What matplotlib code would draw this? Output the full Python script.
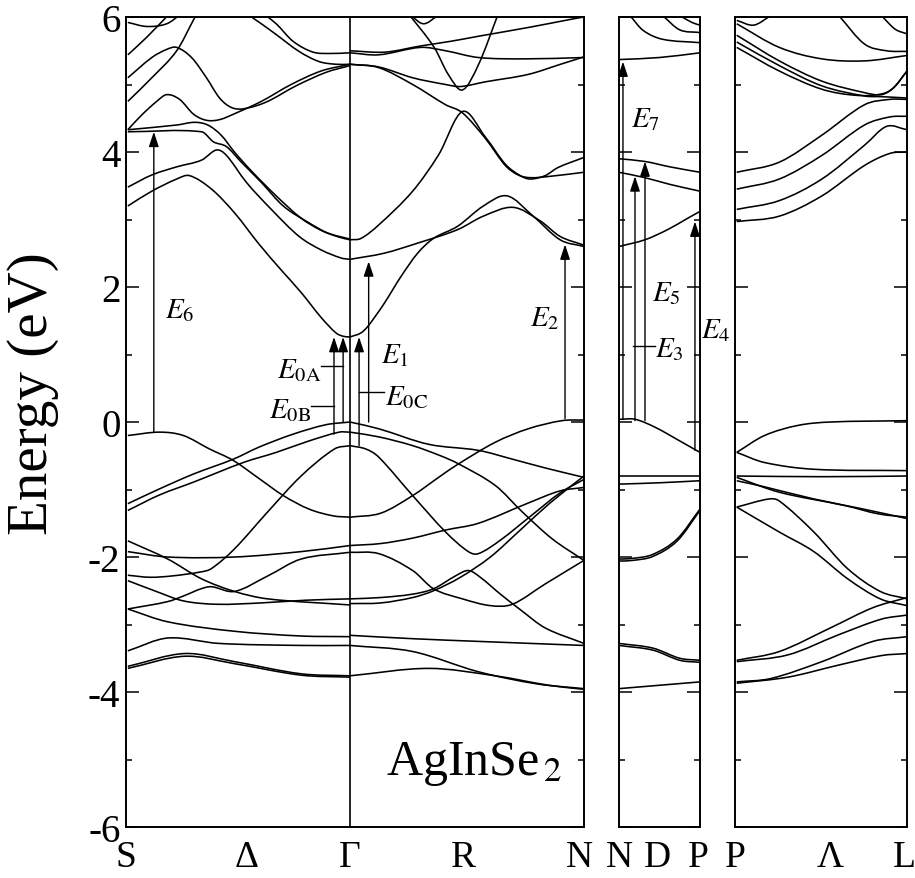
import matplotlib
matplotlib.use("Agg")
import matplotlib.pyplot as plt
from matplotlib.path import Path
from matplotlib.patches import PathPatch
import numpy as np

plt.rcParams['font.family'] = ['Liberation Serif', 'DejaVu Serif']
plt.rcParams['mathtext.fontset'] = 'stix'
plt.rcParams['axes.unicode_minus'] = False

# ---------------- data: bands as (t along segment, energy eV) ----------------
# S -> Gamma
SG_BANDS = [
    [(0, 3.2), (0.108, 3.42), (0.22, 3.6), (0.278, 3.65), (0.377, 3.45), (0.48, 3.1), (0.592, 2.63),
     (0.691, 2.25), (0.78, 1.92), (0.87, 1.55), (0.937, 1.32), (0.97, 1.27), (1, 1.26)],
    [(0, 3.48), (0.108, 3.66), (0.22, 3.78), (0.332, 3.88), (0.399, 4.03), (0.444, 3.95), (0.534, 3.55),
     (0.646, 3.15), (0.771, 2.75), (0.87, 2.55), (0.96, 2.43), (1, 2.41)],
    [(0, 4.33), (0.22, 4.4), (0.3, 4.44), (0.36, 4.4), (0.42, 4.25), (0.48, 4.0), (0.556, 3.72),
     (0.668, 3.35), (0.78, 3.02), (0.87, 2.84), (0.95, 2.74), (1, 2.7)],
    [(0, 4.3), (0.332, 4.3), (0.386, 4.15), (0.444, 4.08), (0.511, 3.85), (0.601, 3.55), (0.7, 3.2),
     (0.816, 2.95), (0.9, 2.8), (1, 2.71)],
    [(0, 4.33), (0.063, 4.55), (0.13, 4.75), (0.175, 4.85), (0.233, 4.78), (0.296, 4.56), (0.354, 4.47),
     (0.413, 4.48), (0.489, 4.58), (0.601, 4.75), (0.735, 5.0), (0.87, 5.2), (1, 5.3)],
    [(0, 5.1), (0.108, 5.4), (0.175, 5.52), (0.22, 5.55), (0.287, 5.4), (0.354, 5.1), (0.413, 4.8),
     (0.466, 4.66), (0.52, 4.64), (0.623, 4.74), (0.757, 4.98), (0.892, 5.18), (1, 5.28)],
    [(0, 4.75), (0.108, 5.1), (0.22, 5.5), (0.296, 5.96), (0.31, 6.05)],
    [(0, 5.44), (0.085, 5.7), (0.188, 6.05)],
    [(0, 5.92), (0.085, 5.86), (0.175, 5.9), (0.242, 6.05)],
    [(0.534, 6.05), (0.601, 5.9), (0.668, 5.74), (0.771, 5.49), (0.861, 5.34), (0.937, 5.3), (1, 5.3)],
    [(0.61, 6.05), (0.668, 5.9), (0.744, 5.64), (0.834, 5.48), (0.915, 5.46), (1, 5.47)],
    # valence
    [(0, -0.2), (0.143, -0.15), (0.25, -0.2), (0.368, -0.4), (0.475, -0.57), (0.592, -0.84), (0.7, -1.09),
     (0.816, -1.29), (0.924, -1.39), (1, -1.41)],
    [(0, -1.21), (0.143, -0.99), (0.296, -0.77), (0.475, -0.55), (0.592, -0.37), (0.744, -0.18),
     (0.892, -0.04), (1, 0.0)],
    [(0, -1.31), (0.143, -1.08), (0.296, -0.89), (0.52, -0.6), (0.668, -0.45), (0.816, -0.28),
     (0.951, -0.15), (1, -0.15)],
    [(0, -2.27), (0.1, -2.3), (0.2, -2.28), (0.33, -2.22), (0.377, -2.17), (0.48, -1.88), (0.63, -1.33),
     (0.78, -0.8), (0.93, -0.4), (1, -0.35)],
    [(0, -1.76), (0.18, -2.03), (0.33, -2.32), (0.48, -2.51), (0.63, -2.62), (1, -2.71)],
    [(0, -1.92), (0.18, -2.0), (0.48, -2.0), (0.78, -1.92), (1, -1.83)],
    [(0, -2.77), (0.18, -2.66), (0.256, -2.57), (0.33, -2.47), (0.377, -2.44), (0.48, -2.51),
     (0.63, -2.28), (0.78, -2.03), (1, -1.93)],
    [(0, -2.35), (0.12, -2.5), (0.25, -2.65), (0.4, -2.7), (0.6, -2.68), (0.8, -2.64), (1, -2.62)],
    [(0, -2.77), (0.18, -2.96), (0.48, -3.1), (0.78, -3.17), (1, -3.18)],
    [(0, -3.39), (0.18, -3.2), (0.41, -3.28), (0.78, -3.31), (1, -3.31)],
    [(0, -3.62), (0.256, -3.43), (0.48, -3.55), (0.78, -3.73), (1, -3.76)],
    [(0, -3.65), (0.256, -3.47), (0.48, -3.58), (0.78, -3.75), (1, -3.78)],
]

# Gamma -> N
GN_BANDS = [
    [(0, 1.26), (0.047, 1.32), (0.077, 1.42), (0.145, 1.75), (0.217, 2.15), (0.289, 2.5), (0.357, 2.72),
     (0.46, 2.9), (0.57, 3.2), (0.672, 3.35), (0.783, 3.05), (0.898, 2.7), (1, 2.6)],
    [(0, 2.41), (0.145, 2.5), (0.289, 2.65), (0.46, 2.85), (0.57, 3.05), (0.698, 3.18), (0.813, 2.98),
     (0.898, 2.75), (1, 2.62)],
    [(0, 2.7), (0.047, 2.72), (0.123, 2.92), (0.268, 3.42), (0.379, 3.96), (0.481, 4.6), (0.579, 4.22),
     (0.664, 3.82), (0.728, 3.65), (0.77, 3.6), (0.834, 3.65), (0.889, 3.77), (1, 3.92)],
    [(0, 5.3), (0.123, 5.25), (0.268, 5.0), (0.409, 4.7), (0.481, 4.58), (0.579, 4.2), (0.664, 3.8),
     (0.719, 3.66), (0.77, 3.62), (0.855, 3.64), (1, 3.7)],
    [(0, 5.3), (0.123, 5.26), (0.268, 5.1), (0.409, 5.0), (0.472, 4.97), (0.579, 5.04), (0.762, 5.15),
     (0.9, 5.3), (1, 5.41)],
    [(0, 5.47), (0.123, 5.44), (0.302, 5.55), (0.409, 5.5), (0.549, 5.4), (0.75, 5.38), (1, 5.4)],
    [(0, 5.5), (0.15, 5.48), (0.3, 5.57), (0.43, 5.64), (0.557, 5.72), (0.77, 5.85), (0.95, 5.97), (1, 6.0)],
    [(0.25, 6.05), (0.36, 5.55), (0.42, 5.15), (0.481, 4.92), (0.55, 5.3), (0.634, 6.05)],
    [(0.26, 6.02), (0.315, 5.9), (0.375, 6.02)],
    # valence
    [(0, 0.0), (0.123, -0.1), (0.336, -0.33), (0.549, -0.42), (0.694, -0.55), (0.834, -0.68), (1, -0.82)],
    [(0, -1.41), (0.132, -1.35), (0.268, -1.09), (0.387, -0.8), (0.464, -0.62), (0.621, -0.3),
     (0.762, -0.1), (0.906, 0.02), (1, 0.03)],
    [(0, -0.15), (0.123, -0.22), (0.268, -0.35), (0.387, -0.5), (0.464, -0.62), (0.621, -0.94),
     (0.736, -1.33), (0.864, -1.73), (1, -2.05)],
    [(0, -0.35), (0.068, -0.4), (0.123, -0.52), (0.268, -1.09), (0.409, -1.63), (0.506, -1.92),
     (0.549, -1.95), (0.643, -1.75), (0.77, -1.4), (0.898, -1.05), (1, -0.85)],
    [(0, -1.83), (0.132, -1.8), (0.268, -1.72), (0.409, -1.6), (0.549, -1.5), (0.762, -1.2),
     (0.898, -1.02), (1, -0.97)],
    [(0, -1.93), (0.123, -1.95), (0.268, -2.2), (0.357, -2.47), (0.481, -2.62), (0.6, -2.72),
     (0.694, -2.7), (0.834, -2.4), (1, -2.05)],
    [(0, -2.62), (0.132, -2.6), (0.268, -2.55), (0.357, -2.47), (0.451, -2.28), (0.506, -2.2),
     (0.557, -2.3), (0.643, -2.55), (0.728, -2.78), (0.834, -3.05), (1, -3.28)],
    [(0, -2.69), (0.132, -2.68), (0.268, -2.6), (0.357, -2.5), (0.472, -2.3), (0.6, -2.0),
     (0.728, -1.6), (0.855, -1.2), (1, -0.8)],
    [(0, -3.16), (0.268, -3.21), (0.549, -3.25), (1, -3.31)],
    [(0, -3.31), (0.268, -3.4), (0.549, -3.7), (0.8, -3.88), (1, -3.95)],
    [(0, -3.76), (0.336, -3.65), (0.621, -3.76), (0.85, -3.9), (1, -3.96)],
]

# N -> D -> P
NP_BANDS = [
    [(0, 5.37), (0.5, 5.4), (1, 5.47)],
    [(0.136, 6.02), (0.3, 5.8), (0.54, 5.67), (1, 5.62)],
    [(0.54, 6.02), (0.75, 5.81), (1, 5.77)],
    [(0.753, 6.02), (0.9, 5.92), (1, 5.88)],
    [(0, 3.9), (0.32, 3.86), (0.63, 3.78), (1, 3.7)],
    [(0, 3.7), (0.32, 3.62), (0.63, 3.52), (1, 3.42)],
    [(0, 2.6), (0.32, 2.7), (0.6, 2.85), (0.85, 3.02), (1, 3.12)],
    [(0, 0.04), (0.2, 0.04), (0.45, -0.08), (0.75, -0.28), (1, -0.45)],
    [(0, -0.8), (1, -0.8)],
    [(0, -0.92), (0.5, -0.9), (1, -0.87)],
    [(0, -2.03), (0.17, -2.02), (0.42, -1.96), (0.72, -1.73), (1, -1.29)],
    [(0, -2.06), (0.17, -2.05), (0.42, -1.99), (0.72, -1.76), (1, -1.31)],
    [(0, -3.28), (0.42, -3.35), (0.75, -3.5), (1, -3.53)],
    [(0, -3.31), (0.42, -3.38), (0.75, -3.53), (1, -3.56)],
    [(0, -3.95), (1, -3.85)],
]

# P -> Lambda -> L
PL_BANDS = [
    [(0, 2.97), (0.25, 3.05), (0.5, 3.35), (0.75, 3.8), (0.9, 3.98), (1, 4.0)],
    [(0, 3.15), (0.25, 3.28), (0.5, 3.6), (0.75, 4.1), (0.88, 4.38), (1, 4.33)],
    [(0, 3.45), (0.25, 3.6), (0.5, 3.95), (0.75, 4.4), (0.9, 4.52), (1, 4.53)],
    [(0, 3.7), (0.25, 3.85), (0.5, 4.25), (0.75, 4.7), (0.9, 4.78), (1, 4.78)],
    [(0, 5.73), (0.25, 5.35), (0.5, 5.05), (0.75, 4.88), (0.85, 4.85), (0.92, 4.95), (1, 5.2)],
    [(0, 5.63), (0.25, 5.28), (0.5, 4.98), (0.75, 4.83), (0.85, 4.82), (1, 4.8)],
    [(0, 5.55), (0.25, 5.2), (0.5, 4.93), (0.7, 4.84), (0.85, 4.86), (0.92, 4.95), (1, 5.2)],
    [(0, 5.9), (0.25, 5.55), (0.5, 5.38), (0.75, 5.35), (1, 5.43)],
    [(0.6, 6.02), (0.75, 5.6), (0.88, 5.5), (1, 5.49)],
    [(0.85, 6.02), (0.93, 5.82), (1, 5.75)],
    [(0, 5.95), (0.1, 5.88), (0.2, 6.02)],
    # valence
    [(0, -0.45), (0.163, -0.2), (0.36, -0.05), (0.55, 0.0), (1, 0.02)],
    [(0, -0.45), (0.163, -0.6), (0.453, -0.7), (1, -0.72)],
    [(0, -0.8), (0.5, -0.81), (1, -0.8)],
    [(0, -0.82), (0.25, -1.04), (0.64, -1.24), (0.83, -1.36), (1, -1.41)],
    [(0, -0.87), (0.163, -0.96), (0.453, -1.14), (0.744, -1.29), (1, -1.43)],
    [(0, -1.26), (0.19, -1.14), (0.25, -1.17), (0.453, -1.63), (0.65, -2.17), (0.843, -2.51), (1, -2.62)],
    [(0, -1.26), (0.25, -1.63), (0.453, -1.92), (0.65, -2.32), (0.843, -2.62), (1, -2.72)],
    [(0, -3.53), (0.25, -3.4), (0.55, -3.05), (0.8, -2.75), (1, -2.6)],
    [(0, -3.55), (0.3, -3.45), (0.6, -3.15), (0.85, -2.92), (1, -2.86)],
    [(0, -3.85), (0.2, -3.8), (0.5, -3.55), (0.8, -3.25), (1, -3.18)],
    [(0, -3.87), (0.3, -3.78), (0.6, -3.6), (0.85, -3.46), (1, -3.43)],
]

# k-points (panel fractions) and labels
LEFT_TICKS = [-0.004, 0.26, 0.487, 0.736, 0.991]
LEFT_LABELS = ['S', 'Δ', 'Γ', 'R', 'N']
MID_TICKS = [0.0, 0.48, 0.975]
MID_LABELS = ['N', 'D', 'P']
RIGHT_TICKS = [-0.01, 0.55, 0.985]
RIGHT_LABELS = ['P', 'Λ', 'L']
GAMMA = 0.487

# transitions: (panel, x, E_start, E_end)
ARROWS = [
    ('left', 0.057, -0.15, 4.30),   # E6
    ('left', 0.452, -0.18, 1.26),   # E0B
    ('left', 0.472, 0.00, 1.26),    # E0A
    ('left', 0.507, -0.35, 1.26),   # E0C
    ('left', 0.528, 0.00, 2.38),    # E1
    ('left', 0.9585, 0.05, 2.63),   # E2
    ('mid', 0.049, 0.04, 5.34),     # E7
    ('mid', 0.1975, 0.02, 3.64),    # E3
    ('mid', 0.321, 0.02, 3.86),     # E5
    ('mid', 0.938, -0.42, 2.97),    # E4
]
# labels: (panel, x, E, text, ha)
LABELS = [
    ('left', 0.1135, 1.67, r'$E_6$', 'center'),
    ('left', 0.4236, 0.78, r'$E_{0\mathrm{A}}$', 'right'),
    ('left', 0.4017, 0.19, r'$E_{0\mathrm{B}}$', 'right'),
    ('left', 0.5633, 0.37, r'$E_{0\mathrm{C}}$', 'left'),
    ('left', 0.5546, 1.00, r'$E_1$', 'left'),
    ('left', 0.9148, 1.55, r'$E_2$', 'center'),
    ('mid', 0.333, 4.50, r'$E_7$', 'center'),
    ('mid', 0.444, 1.08, r'$E_3$', 'left'),
    ('mid', 0.58, 1.92, r'$E_5$', 'center'),
    ('mid', 1.198, 1.37, r'$E_4$', 'center'),
]
# connector lines: (panel, x0, x1, E)
CONNECTORS = [
    ('left', 0.4236, 0.4716, 0.83),
    ('left', 0.4017, 0.452, 0.24),
    ('left', 0.5066, 0.561, 0.44),
    ('mid', 0.173, 0.444, 1.12),
]

# ---------------- figure ----------------
fig = plt.figure(figsize=(9.15, 8.79), dpi=100)
bot, hgt = 0.0580, 0.9215
axL = fig.add_axes([0.1377, bot, 0.5005, hgt])
axM = fig.add_axes([0.6765, bot, 0.0885, hgt])
axR = fig.add_axes([0.8033, bot, 0.1880, hgt])
axes = {'left': axL, 'mid': axM, 'right': axR}

LW = 1.15


def band_path(x, e):
    """Smooth cubic (Hermite) path through the read points, drawn in data space."""
    n = len(x)
    if n < 3:
        return Path(np.column_stack([x, e]), [Path.MOVETO] + [Path.LINETO] * (n - 1))
    m = np.empty(n)
    m[0] = (e[1] - e[0]) / (x[1] - x[0])
    m[-1] = (e[-1] - e[-2]) / (x[-1] - x[-2])
    m[1:-1] = (e[2:] - e[:-2]) / (x[2:] - x[:-2])
    verts = [(x[0], e[0])]
    codes = [Path.MOVETO]
    for i in range(n - 1):
        h = x[i + 1] - x[i]
        verts += [(x[i] + h / 3, e[i] + m[i] * h / 3),
                  (x[i + 1] - h / 3, e[i + 1] - m[i + 1] * h / 3),
                  (x[i + 1], e[i + 1])]
        codes += [Path.CURVE4] * 3
    return Path(verts, codes)


def draw(ax, bands, x0, x1):
    for b in bands:
        t = np.array([p[0] for p in b], dtype=float)
        e = np.array([p[1] for p in b], dtype=float)
        ax.add_patch(PathPatch(band_path(x0 + t * (x1 - x0), e), fill=False,
                               edgecolor='k', lw=LW, joinstyle='round'))


draw(axL, SG_BANDS, 0.0, GAMMA)
draw(axL, GN_BANDS, GAMMA, 1.0)
draw(axM, NP_BANDS, 0.0, 1.0)
draw(axR, PL_BANDS, 0.0, 1.0)
axL.axvline(GAMMA, color='k', lw=1.2)

for ax, ticks, labels in [(axL, LEFT_TICKS, LEFT_LABELS), (axM, MID_TICKS, MID_LABELS),
                          (axR, RIGHT_TICKS, RIGHT_LABELS)]:
    ax.set_xlim(0, 1)
    ax.set_ylim(-6, 6)
    ax.set_xticks(ticks)
    ax.set_xticklabels(labels, fontsize=27)
    ax.tick_params(axis='x', length=0, pad=9)
    ax.set_yticks(np.arange(-6, 7, 2))
    ax.set_yticks(np.arange(-5, 6, 2), minor=True)
    ax.tick_params(axis='y', which='major', direction='in', length=9.5, width=1.1,
                   left=True, right=True, labelsize=28, pad=4)
    ax.tick_params(axis='y', which='minor', direction='in', length=4.5, width=1.1,
                   left=True, right=True)
    for s in ax.spines.values():
        s.set_linewidth(1.4)
    if ax is not axL:
        ax.tick_params(axis='y', which='both', labelleft=False)

axL.set_yticklabels([str(v) for v in range(-6, 7, 2)])

fig.text(0.036, 0.552, 'Energy (eV)', rotation=90, ha='center', va='center', fontsize=41)

for panel, x, e0, e1 in ARROWS:
    axes[panel].annotate('', xy=(x, e1), xytext=(x, e0),
                         arrowprops=dict(arrowstyle='-|>,head_length=0.6,head_width=0.2',
                                         mutation_scale=15, lw=1.0, color='k',
                                         shrinkA=0, shrinkB=0))
for panel, x, e, txt, ha in LABELS:
    axes[panel].text(x, e, txt, ha=ha, va='center', fontsize=21, clip_on=False)
for panel, x0, x1, e in CONNECTORS:
    axes[panel].plot([x0, x1], [e, e], color='k', lw=1.0)

axL.text(0.566, -5.21, r'AgInSe$_{\,2}$', fontsize=36, ha='left', va='baseline')

fig.savefig('out.png', dpi=100)
